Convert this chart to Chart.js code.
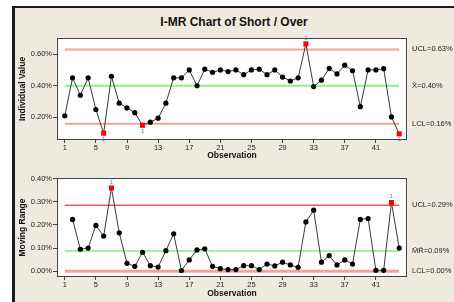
<!DOCTYPE html>
<html>
<head>
<meta charset="utf-8">
<script src="https://cdn.jsdelivr.net/npm/chart.js@4.4.0/dist/chart.umd.min.js"></script>
<style>
  html, body { margin: 0; padding: 0; background: #fff; }
  #wrap { position: relative; width: 454px; height: 302px; overflow: hidden; background: #fff; }
  #frame { position: absolute; left: 12px; top: 6px; width: 460px; height: 310px; background: #EEEAE0;
           border-left: 3px solid #1c1c1c; border-top: 2px solid #1c1c1c; box-sizing: border-box; }
  #title { position: absolute; left: 0; top: 15px; width: 468px; text-align: center;
           font: bold 12px "Liberation Sans", Arial, sans-serif; line-height: 14px; color: #111; }
  canvas { position: absolute; left: 0; }
  #chartI { top: 0; }
  #chartMR { top: 161px; }
</style>
</head>
<body>
<div id="wrap">
  <div id="frame"></div>
  <div id="title">I-MR Chart of Short / Over</div>
  <canvas id="chartI" width="454" height="161"></canvas>
  <canvas id="chartMR" width="454" height="141"></canvas>
</div>
<script>
// Observations 1..44
const observations = Array.from({ length: 44 }, (_, i) => i + 1);
const xTicks = [1, 5, 9, 13, 17, 21, 25, 29, 33, 37, 41];

// Individual values (%)
const individual = [0.21, 0.45, 0.34, 0.45, 0.25, 0.10, 0.46, 0.29, 0.26, 0.23,
                    0.15, 0.17, 0.195, 0.29, 0.45, 0.45, 0.50, 0.40, 0.505, 0.485,
                    0.50, 0.49, 0.50, 0.47, 0.50, 0.505, 0.47, 0.50, 0.455, 0.43,
                    0.45, 0.665, 0.395, 0.435, 0.51, 0.475, 0.53, 0.495, 0.268, 0.50,
                    0.50, 0.508, 0.203, 0.096];
// Moving ranges (%), first observation has none
const movingRange = [null, 0.224, 0.095, 0.10, 0.198, 0.152, 0.36, 0.166, 0.034, 0.021,
                     0.082, 0.024, 0.018, 0.089, 0.162, 0.003, 0.049, 0.092, 0.097, 0.021,
                     0.011, 0.007, 0.007, 0.024, 0.024, 0.007, 0.031, 0.023, 0.039, 0.027,
                     0.017, 0.213, 0.264, 0.039, 0.067, 0.027, 0.049, 0.031, 0.224, 0.228,
                     0.004, 0.004, 0.297, 0.10];

// Failed test 1 (out of limits)
const flaggedI = [6, 11, 32, 44];
const flaggedMR = [7, 43];

// Control limits
const limitsI = { ucl: 0.63, cl: 0.40, lcl: 0.16 };
const limitsMR = { ucl: 0.285, cl: 0.087, lcl: 0.0 };
const labelsI = ['UCL=0.63%', 'X\u0304=0.40%', 'LCL=0.16%'];
const labelsMR = ['UCL=0.29%', 'M\u0304R\u0304=0.09%', 'LCL=0.00%'];

const smallFont = { family: 'Liberation Sans, Arial, sans-serif', size: 7.5 };
const titleFont = { family: 'Liberation Sans, Arial, sans-serif', size: 8.5, weight: 'bold' };

function buildChart(id, values, flagged, limits, labels, opts) {
    const pts = [];
    values.forEach((v, i) => { if (v !== null) pts.push({ x: observations[i], y: v }); });
    const isFlag = ctx => flagged.includes(pts[ctx.dataIndex].x);
    const first = observations[0], last = observations[observations.length - 1];
    const hline = (y, color, w) => ({
        data: [{ x: first, y: y }, { x: last, y: y }],
        borderColor: color, borderWidth: w, pointRadius: 0
    });

    const decor = {
        id: 'decor',
        beforeDraw(chart) {
            const a = chart.chartArea, c = chart.ctx;
            c.save();
            c.fillStyle = '#ffffff';
            c.fillRect(a.left, a.top, a.right - a.left, a.bottom - a.top);
            c.restore();
        },
        afterDraw(chart) {
            const a = chart.chartArea, c = chart.ctx, ys = chart.scales.y;
            c.save();
            c.strokeStyle = '#444';
            c.lineWidth = 1;
            c.strokeRect(a.left + 0.5, a.top + 0.5, a.right - a.left - 1, a.bottom - a.top - 1);
            // limit labels on the right
            c.fillStyle = '#222';
            c.font = '7.5px "Liberation Sans", Arial, sans-serif';
            c.textBaseline = 'middle';
            c.textAlign = 'left';
            [limits.ucl, limits.cl, limits.lcl].forEach((v, k) => {
                c.fillText(labels[k], 412, ys.getPixelForValue(v));
            });
            // "1" markers for failed points
            const meta = chart.getDatasetMeta(0);
            c.fillStyle = '#5b7fb0';
            c.font = '6px "Liberation Sans", Arial, sans-serif';
            c.textAlign = 'center';
            meta.data.forEach((el, i) => {
                if (!flagged.includes(pts[i].x)) return;
                const above = pts[i].y > limits.cl;
                c.fillText('1', el.x, el.y + (above ? -6 : 6));
            });
            c.restore();
        }
    };

    return new Chart(document.getElementById(id), {
        type: 'line',
        data: {
            datasets: [
                {
                    data: pts,
                    borderColor: '#3a3a3a',
                    borderWidth: 1,
                    pointStyle: ctx => isFlag(ctx) ? 'rect' : 'circle',
                    pointRadius: ctx => isFlag(ctx) ? 3.6 : 2.6,
                    pointBackgroundColor: ctx => isFlag(ctx) ? '#ff0000' : '#000000',
                    pointBorderWidth: 0,
                    tension: 0
                },
                hline(limits.cl, opts.clColor, opts.clWidth),
                hline(limits.ucl, opts.uclColor, opts.uclWidth),
                hline(limits.lcl, opts.lclColor, opts.lclWidth)
            ]
        },
        options: {
            responsive: false,
            animation: false,
            devicePixelRatio: 1,
            layout: { padding: { left: 14, right: 47, top: opts.padTop, bottom: 0 } },
            plugins: { legend: { display: false }, tooltip: { enabled: false } },
            scales: {
                x: {
                    type: 'linear', min: 0, max: 45,
                    afterBuildTicks: s => { s.ticks = xTicks.map(v => ({ value: v })); },
                    afterFit: s => { s.height = opts.xHeight; },
                    grid: { drawOnChartArea: false, tickLength: 3, color: '#444' },
                    border: { display: false },
                    ticks: { font: smallFont, color: '#222', padding: 0, maxRotation: 0, autoSkip: false },
                    title: { display: true, text: 'Observation', font: titleFont, color: '#111',
                             padding: { top: 0, bottom: opts.xTitlePad } }
                },
                y: {
                    min: opts.yMin, max: opts.yMax,
                    afterBuildTicks: s => { s.ticks = opts.yTicks.map(v => ({ value: v })); },
                    afterFit: s => { s.width = 43; },
                    grid: { drawOnChartArea: false, tickLength: 4, color: '#444' },
                    border: { display: false },
                    ticks: { font: smallFont, color: '#222', padding: 1,
                             callback: v => v.toFixed(2) + '%' },
                    title: { display: true, text: opts.yTitle, font: titleFont, color: '#111',
                             padding: { top: 4, bottom: 0 } }
                }
            }
        },
        plugins: [decor]
    });
}

buildChart('chartI', individual, flaggedI, limitsI, labelsI, {
    padTop: 38, xHeight: 21, xTitlePad: 0,
    yMin: 0.057, yMax: 0.702, yTicks: [0.2, 0.4, 0.6], yTitle: 'Individual Value',
    uclColor: '#f5a0a0', uclWidth: 2, clColor: '#96ec96', clWidth: 2, lclColor: '#f5a0a0', lclWidth: 2
});

buildChart('chartMR', movingRange, flaggedMR, limitsMR, labelsMR, {
    padTop: 17, xHeight: 25, xTitlePad: 3,
    yMin: -0.025, yMax: 0.403, yTicks: [0, 0.1, 0.2, 0.3, 0.4], yTitle: 'Moving Range',
    uclColor: '#e65a5a', uclWidth: 1.5, clColor: '#8ee88e', clWidth: 1.5, lclColor: '#f5a0a0', lclWidth: 3
});
</script>
</body>
</html>
